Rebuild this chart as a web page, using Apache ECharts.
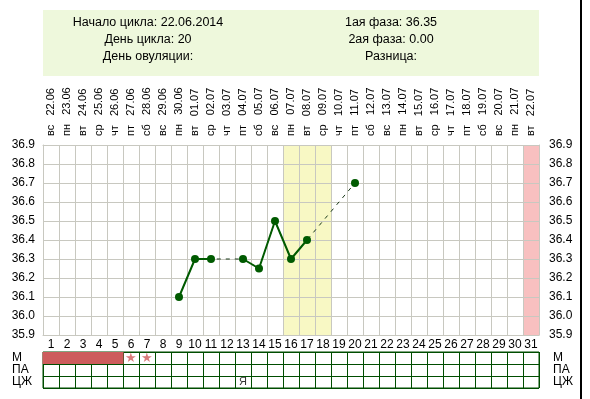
<!DOCTYPE html>
<html lang="ru">
<head>
    <meta charset="UTF-8">
    <title>График температуры</title>
    <script src="https://cdn.jsdelivr.net/npm/echarts@6/dist/echarts.min.js"></script>
    <style>
        html, body { margin: 0; padding: 0; background: #fff; }
        #chart { width: 590px; height: 399px; }
    </style>
</head>
<body>
<div id="chart"></div>
<script>
    // дни цикла, даты и дни недели
    var days = [];
    for (var d = 1; d <= 31; d++) days.push(String(d));
    var dates = ['22.06','23.06','24.06','25.06','26.06','27.06','28.06','29.06','30.06','01.07',
        '02.07','03.07','04.07','05.07','06.07','07.07','08.07','09.07','10.07','11.07',
        '12.07','13.07','14.07','15.07','16.07','17.07','18.07','19.07','20.07','21.07','22.07'];
    var weekdays = ['вс','пн','вт','ср','чт','пт','сб','вс','пн','вт','ср','чт','пт','сб','вс','пн',
        'вт','ср','чт','пт','сб','вс','пн','вт','ср','чт','пт','сб','вс','пн','вт'];
    // базальная температура по дням (null - нет измерения)
    var temps = [null, null, null, null, null, null, null, null, 36.1, 36.3,
        36.3, null, 36.3, 36.25, 36.5, 36.3, 36.4, null, null, 36.7,
        null, null, null, null, null, null, null, null, null, null, null];
    var yTicks = [35.9, 36.0, 36.1, 36.2, 36.3, 36.4, 36.5, 36.6, 36.7, 36.8, 36.9];
    // выделенные дни
    var fertileDays = [16, 17, 18];
    var todayDays = [31];
    // нижняя таблица
    var rows = ['ЦЖ', 'ПА', 'М'];
    var mensesDays = [1, 2, 3, 4, 5];
    var starDays = [6, 7];
    var paDays = [7, 9, 12, 13, 15];
    var czhDays = [13];
    var czhMarks = ['Я'];
    // шапка
    var infoLeft = ['Начало цикла: 22.06.2014', 'День цикла: 20', 'День овуляции:'];
    var infoRight = ['1ая фаза: 36.35', '2ая фаза: 0.00', 'Разница:'];

    var gridColor = '#c8c8c0';
    var tableColor = '#004d00';
    var lineColor = '#005a00';

    function bandData(list) {
        return days.map(function (v, i) {
            return list.indexOf(i + 1) >= 0 ? yTicks[yTicks.length - 1] : null;
        });
    }

    var graphics = [
        { type: 'rect', shape: { x: 43, y: 10, width: 496, height: 66 }, style: { fill: '#eef8dc' }, z: -10 },
        { type: 'rect', shape: { x: 580, y: 0, width: 2, height: 399 }, style: { fill: '#000' } }
    ];
    var infoY = [23, 40, 57];
    for (var k = 0; k < infoLeft.length; k++) {
        graphics.push({ type: 'text', x: 148, y: infoY[k], style: { text: infoLeft[k], fill: '#000', font: '12.5px "Liberation Sans", Arial', align: 'center', verticalAlign: 'middle' } });
        graphics.push({ type: 'text', x: 391, y: infoY[k], style: { text: infoRight[k], fill: '#000', font: '12.5px "Liberation Sans", Arial', align: 'center', verticalAlign: 'middle' } });
    }

    var myChart = echarts.init(document.getElementById('chart'));
    var option = {
        backgroundColor: '#fff',
        animation: false,
        textStyle: { fontFamily: '"Liberation Sans", Arial, sans-serif' },
        graphic: graphics,
        grid: [
            { left: 43, top: 145, width: 496, height: 190 },
            { left: 43, top: 352, width: 496, height: 36, show: true, borderColor: tableColor, borderWidth: 1 }
        ],
        xAxis: [
            {
                type: 'category', gridIndex: 0, position: 'top', data: days,
                axisLine: { lineStyle: { color: gridColor } },
                axisTick: { show: false },
                axisLabel: {
                    interval: 0, rotate: -90, margin: 9, fontSize: 11, color: '#000',
                    formatter: function (v, i) { return weekdays[i] + '   ' + dates[i]; }
                },
                splitLine: { show: true, lineStyle: { color: gridColor } }
            },
            {
                type: 'category', gridIndex: 0, position: 'bottom', data: days,
                axisLine: { lineStyle: { color: gridColor } },
                axisTick: { show: false },
                axisLabel: { interval: 0, margin: 4, fontSize: 12, color: '#000' }
            },
            {
                type: 'category', gridIndex: 1, data: days,
                axisLine: { show: false },
                axisTick: { show: false },
                axisLabel: { show: false },
                splitLine: { show: true, interval: 0, lineStyle: { color: tableColor } }
            }
        ],
        yAxis: [
            {
                type: 'value', gridIndex: 0, min: 35.9, max: 36.9, interval: 0.1, position: 'left',
                axisLine: { show: true, lineStyle: { color: gridColor } },
                axisTick: { show: false },
                axisLabel: { margin: 8, fontSize: 12, color: '#000', formatter: function (v) { return v.toFixed(1); } },
                splitLine: { show: true, lineStyle: { color: gridColor } }
            },
            {
                type: 'value', gridIndex: 0, min: 35.9, max: 36.9, interval: 0.1, position: 'right',
                axisLine: { show: true, lineStyle: { color: gridColor } },
                axisTick: { show: false },
                axisLabel: { margin: 10, fontSize: 12, color: '#000', formatter: function (v) { return v.toFixed(1); } },
                splitLine: { show: false }
            },
            {
                type: 'category', gridIndex: 1, data: rows, position: 'left',
                axisLine: { show: false }, axisTick: { show: false },
                axisLabel: { interval: 0, margin: 31, align: 'left', fontSize: 12, color: '#000', lineHeight: 12 },
                splitLine: { show: true, interval: 0, lineStyle: { color: tableColor } }
            },
            {
                type: 'category', gridIndex: 1, data: rows, position: 'right',
                axisLine: { show: false }, axisTick: { show: false },
                axisLabel: { interval: 0, margin: 14, align: 'left', fontSize: 12, color: '#000', lineHeight: 12 }
            }
        ],
        series: [
            {
                type: 'bar', xAxisIndex: 0, yAxisIndex: 0, data: bandData(fertileDays),
                barWidth: '100%', barGap: '-100%', z: -1, silent: true,
                itemStyle: { color: '#f8f8c4' }
            },
            {
                type: 'bar', xAxisIndex: 0, yAxisIndex: 0, data: bandData(todayDays),
                barWidth: '100%', barGap: '-100%', z: -1, silent: true,
                itemStyle: { color: '#f8c0c0' }
            },
            {
                // пропуски измерений - пунктир
                type: 'line', xAxisIndex: 0, yAxisIndex: 0, data: temps, connectNulls: true,
                symbol: 'none', z: 3,
                lineStyle: { color: '#1a3a1a', width: 1, type: [4, 5] }
            },
            {
                type: 'line', xAxisIndex: 0, yAxisIndex: 0, data: temps, connectNulls: false,
                symbol: 'circle', symbolSize: 8, showAllSymbol: true, z: 4,
                itemStyle: { color: lineColor },
                lineStyle: { color: lineColor, width: 2 }
            },
            {
                type: 'scatter', xAxisIndex: 2, yAxisIndex: 2, symbol: 'rect', symbolSize: [17, 12],
                zlevel: 1,
                itemStyle: { color: '#cd5c5c', opacity: 1 },
                data: mensesDays.map(function (d) { return [d - 1, 'М']; })
            },
            {
                type: 'scatter', xAxisIndex: 2, yAxisIndex: 2, symbolSize: 0, zlevel: 1,
                label: { show: true, position: 'inside', formatter: '★', color: '#d05a5a', fontSize: 13 },
                data: starDays.map(function (d) { return [d - 1, 'М']; })
            },
            {
                type: 'scatter', xAxisIndex: 2, yAxisIndex: 2, symbol: 'emptyCircle', symbolSize: [7, 5],
                zlevel: 1,
                itemStyle: { color: '#fff', borderColor: '#d05a5a', borderWidth: 1, opacity: 1 },
                data: paDays.map(function (d) { return [d - 1, 'ПА']; })
            },
            {
                type: 'scatter', xAxisIndex: 2, yAxisIndex: 2, symbolSize: 0, zlevel: 1,
                label: { show: true, position: 'inside', color: '#000', fontSize: 11,
                    formatter: function (p) { return czhMarks[p.dataIndex]; } },
                data: czhDays.map(function (d) { return [d - 1, 'ЦЖ']; })
            }
        ]
    };
    myChart.setOption(option);
</script>
</body>
</html>
